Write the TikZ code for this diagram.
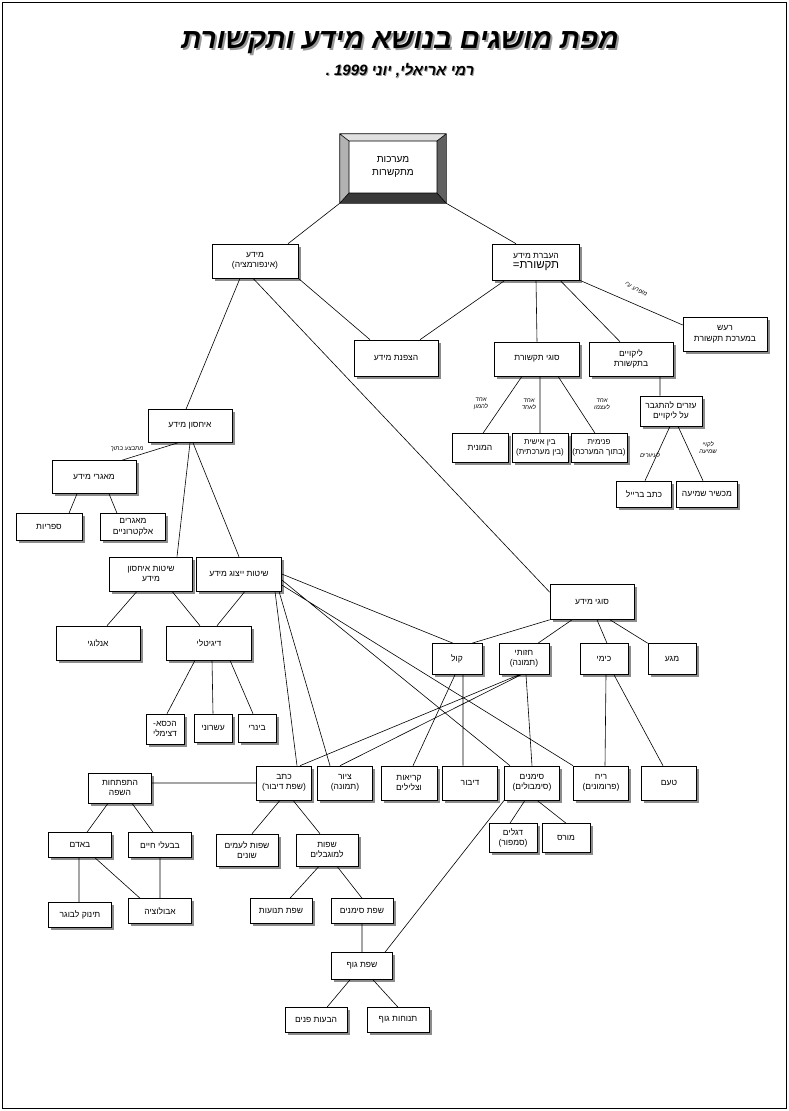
\documentclass[tikz,border=0pt]{standalone}
\usepackage{fontspec}
\setmainfont{Liberation Sans}[Script=Hebrew]
\TeXXeTstate=1
\usetikzlibrary{shadows}
\newcommand{\heb}[1]{\beginR#1\endR}
\tikzset{
  box/.style 2 args={draw=black, fill=white, line width=0.6pt, minimum width=#1, minimum height=#2,
    inner sep=1pt, align=center, font=\fontsize{8.5}{10.5}\selectfont,
    drop shadow={shadow xshift=2.5pt, shadow yshift=-2.5pt, fill=black!45, opacity=1}},
  lbl/.style={font=\fontsize{6}{7}\selectfont\itshape, align=center, inner sep=0pt}
}
\begin{document}
\begin{tikzpicture}[x=1pt, y=-1pt, line width=0.6pt]
	\useasboundingbox (0,0) rectangle (789,1111);
	\draw (2,2) rectangle (786,1108);
	\node[font=\fontsize{28}{30}\selectfont\bfseries\itshape, text=black!40] (titleshadow) at (402,45) {\heb{מפת מושגים בנושא מידע ותקשורת}};
	\node[font=\fontsize{28}{30}\selectfont\bfseries\itshape] (title) at (400,43) {\heb{מפת מושגים בנושא מידע ותקשורת}};
	\node[font=\fontsize{15}{17}\selectfont\bfseries\itshape, text=black!40] (subshadow) at (401,72) {\heb{רמי אריאלי, יוני 1999 .}};
	\node[font=\fontsize{15}{17}\selectfont\bfseries\itshape] (sub) at (400,71) {\heb{רמי אריאלי, יוני 1999 .}};

	\node[minimum width=106pt, minimum height=69pt, inner sep=0pt] (sys) at (393,168.5) {};
	\fill[black!30] (340,134) -- (349,141) -- (349,193) -- (340,203) -- cycle;
	\fill[black!12] (340,134) -- (446,134) -- (437,141) -- (349,141) -- cycle;
	\fill[black!62] (446,134) -- (446,203) -- (437,193) -- (437,141) -- cycle;
	\fill[black!78] (340,203) -- (446,203) -- (437,193) -- (349,193) -- cycle;
	\draw (sys.north west) rectangle (sys.south east) (349,141) rectangle (437,193)
		(340,134) -- (349,141) (446,134) -- (437,141) (340,203) -- (349,193) (446,203) -- (437,193);
	\node[font=\fontsize{10}{13}\selectfont, align=center] (systext) at (393,167) {\heb{מערכות}\\\heb{מתקשרות}};

	\node[box={86pt}{34pt}] (mida) at (255,261) {\heb{מידע}\\\heb{(אינפורמציה)}};
	\node[box={87pt}{36pt}] (haavara) at (536,262) {\heb{העברת מידע}\\{\fontsize{11.5}{13}\selectfont =\heb{תקשורת}}};
	\node[box={84pt}{36pt}] (hatzpana) at (396,358) {\heb{הצפנת מידע}};
	\node[box={85pt}{34pt}] (sugtik) at (537,359) {\heb{סוגי תקשורת}};
	\node[box={84pt}{34pt}] (likuyim) at (631,359) {\heb{ליקויים}\\\heb{בתקשורת}};
	\node[box={84pt}{34pt}] (raash) at (725,334) {\heb{רעש}\\\heb{במערכת תקשורת}};
	\node[box={62pt}{30pt}] (ezrim) at (671,411) {\heb{עזרים להתגבר}\\\heb{על ליקויים}};
	\node[box={56pt}{29pt}] (hamonit) at (480,448) {\heb{המונית}};
	\node[box={56pt}{29pt}, font=\fontsize{8}{10}\selectfont] (beyn) at (540,448) {\heb{בין אישית}\\\heb{(בין מערכתית)}};
	\node[box={56pt}{29pt}, font=\fontsize{8}{10}\selectfont] (pnimit) at (599,448) {\heb{פנימית}\\\heb{(בתוך המערכת)}};
	\node[box={55pt}{26pt}] (braille) at (644,494) {\heb{כתב ברייל}};
	\node[box={61pt}{26pt}] (shmia) at (707,494) {\heb{מכשיר שמיעה}};
	\node[box={84pt}{33pt}] (ihsun) at (190,426) {\heb{איחסון מידע}};
	\node[box={84pt}{33pt}] (magarey) at (94,477) {\heb{מאגרי מידע}};
	\node[box={66pt}{27pt}] (sifriyot) at (49,527) {\heb{ספריות}};
	\node[box={65pt}{27pt}] (elek) at (133,527) {\heb{מאגרים}\\\heb{אלקטרוניים}};
	\node[box={83pt}{34pt}] (shitihsun) at (151,574) {\heb{שיטות איחסון}\\\heb{מידע}};
	\node[box={85pt}{34pt}] (shityitzug) at (239,574) {\heb{שיטות ייצוג מידע}};
	\node[box={84pt}{34pt}] (analog) at (98,643) {\heb{אנלוגי}};
	\node[box={85pt}{34pt}] (digital) at (209,643) {\heb{דיגיטלי}};
	\node[box={38pt}{30pt}] (hexa) at (165,729) {\heb{הכסא-}\\\heb{דצימלי}};
	\node[box={38pt}{28pt}] (asroni) at (213,728) {\heb{עשרוני}};
	\node[box={38pt}{28pt}] (binari) at (257,728) {\heb{בינרי}};
	\node[box={84pt}{35pt}] (sugmeda) at (592,602) {\heb{סוגי מידע}};
	\node[box={50pt}{31pt}] (kol) at (457,659) {\heb{קול}};
	\node[box={50pt}{31pt}] (hazuti) at (524,659) {\heb{חזותי}\\\heb{(תמונה)}};
	\node[box={48pt}{31pt}] (kimi) at (604,659) {\heb{כימי}};
	\node[box={48pt}{31pt}] (maga) at (672,659) {\heb{מגע}};
	\node[box={55pt}{34pt}] (ktav) at (284,783) {\heb{כתב}\\\heb{(שפת דיבור)}};
	\node[box={55pt}{34pt}] (tziyur) at (345,783) {\heb{ציור}\\\heb{(תמונה)}};
	\node[box={56pt}{34pt}] (kriot) at (409,783) {\heb{קריאות}\\\heb{וצלילים}};
	\node[box={55pt}{34pt}] (dibur) at (470,783) {\heb{דיבור}};
	\node[box={55pt}{34pt}] (simanim) at (532,783) {\heb{סימנים}\\\heb{(סימבולים)}};
	\node[box={55pt}{34pt}] (reah) at (601,783) {\heb{ריח}\\\heb{(פרומונים)}};
	\node[box={55pt}{34pt}] (taam) at (669,783) {\heb{טעם}};
	\node[box={48pt}{29pt}] (degalim) at (513,838) {\heb{דגלים}\\\heb{(סמפור)}};
	\node[box={48pt}{29pt}] (morse) at (566,838) {\heb{מורס}};
	\node[box={62pt}{32pt}] (amim) at (247,850) {\heb{שפות לעמים}\\\heb{שונים}};
	\node[box={62pt}{32pt}] (mugbalim) at (327,850) {\heb{שפות}\\\heb{למוגבלים}};
	\node[box={63pt}{30pt}] (hitpathut) at (120,788) {\heb{התפתחות}\\\heb{השפה}};
	\node[box={63pt}{25pt}] (adam) at (80,845) {\heb{באדם}};
	\node[box={63pt}{25pt}] (baaley) at (160,845) {\heb{בבעלי חיים}};
	\node[box={63pt}{25pt}] (tinok) at (80,915) {\heb{תינוק לבוגר}};
	\node[box={63pt}{25pt}] (evol) at (160,911) {\heb{אבולוציה}};
	\node[box={62pt}{25pt}] (tnuot) at (281,911) {\heb{שפת תנועות}};
	\node[box={62pt}{25pt}] (simansafa) at (362,911) {\heb{שפת סימנים}};
	\node[box={61pt}{27pt}] (guf) at (362,966) {\heb{שפת גוף}};
	\node[box={62pt}{25pt}] (havaot) at (316,1020) {\heb{הבעות פנים}};
	\node[box={62pt}{25pt}] (tnuhot) at (398,1020) {\heb{תנוחות גוף}};

	\node[lbl, rotate=-27] (lraash) at (636,289) {\heb{מופרע ע"י}};
	\node[lbl] (lhamon) at (481,404) {\heb{אחד}\\\heb{להמון}};
	\node[lbl] (lehad) at (529,404) {\heb{אחד}\\\heb{לאחד}};
	\node[lbl] (latzmo) at (602,404) {\heb{אחד}\\\heb{לעצמו}};
	\node[lbl] (livrim) at (650,455) {\heb{לעיוורים}};
	\node[lbl] (lkuyey) at (708,448) {\heb{לקויי}\\\heb{שמיעה}};
	\node[lbl] (lmagar) at (127,449) {\heb{מתבצע בתוך}};

	\draw (sys.south west) -- ([xshift=33]mida.north)
		(sys.south east) -- ([xshift=-20]haavara.north)
		([xshift=-15]mida.south) -- ([xshift=-4]ihsun.north)
		([xshift=-2]mida.south) -- ([yshift=-8]sugmeda.north west)
		(mida.south east) -- ([xshift=-26]hatzpana.north)
		([xshift=-31]haavara.south) -- ([xshift=24]hatzpana.north)
		(haavara.south) -- (sugtik.north)
		([xshift=24]haavara.south) -- ([xshift=-11]likuyim.north)
		(haavara.south east) -- ([yshift=9]raash.west)
		([xshift=-15]sugtik.south) -- ([xshift=3]hamonit.north)
		([xshift=3]sugtik.south) -- (beyn.north)
		([xshift=21]sugtik.south) -- ([xshift=-4]pnimit.north)
		([xshift=29]likuyim.south) -- ([xshift=-11]ezrim.north)
		([xshift=-1]ezrim.south) -- ([xshift=1]braille.north)
		([xshift=7]ezrim.south) -- ([xshift=-4]shmia.north)
		([xshift=-12]ihsun.south) -- ([xshift=28]magarey.north)
		([xshift=-17]magarey.south) -- ([xshift=20]sifriyot.north)
		([xshift=15]magarey.south) -- ([xshift=-16]elek.north)
		(ihsun.south) -- ([xshift=26]shitihsun.north)
		([xshift=3]ihsun.south) -- (shityitzug.north)
		([xshift=-14]shitihsun.south) -- ([xshift=9]analog.north)
		([xshift=21]shitihsun.south) -- ([xshift=-9]digital.north)
		([xshift=6]shityitzug.south) -- ([xshift=8]digital.north)
		([xshift=-14]digital.south) -- ([xshift=2]hexa.north)
		([xshift=3]digital.south) -- (asroni.north)
		([xshift=21]digital.south) -- ([xshift=-4]binari.north)
		(sugmeda.south west) -- ([xshift=15]kol.north)
		([xshift=-20]sugmeda.south) -- ([xshift=14]hazuti.north)
		([xshift=5]sugmeda.south) -- ([xshift=3]kimi.north)
		([xshift=18]sugmeda.south) -- (maga.north west)
		(shityitzug.east) -- ([xshift=-4]kol.north)
		([yshift=-6]shityitzug.east) -- ([xshift=-22]simanim.north)
		([yshift=-11]shityitzug.east) -- ([xshift=-28]reah.north)
		([xshift=36]shityitzug.south) -- ([xshift=13]ktav.north)
		([xshift=40]shityitzug.south) -- ([xshift=-15]tziyur.north)
		([xshift=-5]hazuti.south) -- ([xshift=16]ktav.north)
		([xshift=-3]hazuti.south) -- ([xshift=-5]tziyur.north)
		([xshift=2]hazuti.south) -- (simanim.north)
		([xshift=-2]kol.south) -- ([xshift=4]kriot.north)
		([xshift=6]kol.south) -- ([xshift=-7]dibur.north)
		([xshift=2]kimi.south) -- ([xshift=4]reah.north)
		([xshift=10]kimi.south) -- ([xshift=-6]taam.north)
		([xshift=-7]simanim.south) -- ([xshift=-3]degalim.north)
		([xshift=5]simanim.south) -- (morse.north)
		(simanim.south west) -- ([xshift=23]guf.north)
		([xshift=-4]ktav.south) -- ([xshift=5]amim.north)
		([xshift=9]ktav.south) -- ([xshift=-7]mugbalim.north)
		(ktav.west) -- (ktav.west -| hitpathut.east)
		([xshift=-12]hitpathut.south) -- ([xshift=7]adam.north)
		([xshift=12]hitpathut.south) -- ([xshift=-7]baaley.north)
		([xshift=-1]adam.south) -- ([xshift=-1]tinok.north)
		([xshift=15]adam.south) -- ([xshift=-20]evol.north)
		(baaley.south) -- (evol.north)
		([xshift=-8]mugbalim.south) -- ([xshift=9]tnuot.north)
		([xshift=10]mugbalim.south) -- (simansafa.north)
		(simansafa.south) -- (guf.north)
		([xshift=-12]guf.south) -- ([xshift=11]havaot.north)
		([xshift=11]guf.south) -- (tnuhot.north);
\end{tikzpicture}
\end{document}
